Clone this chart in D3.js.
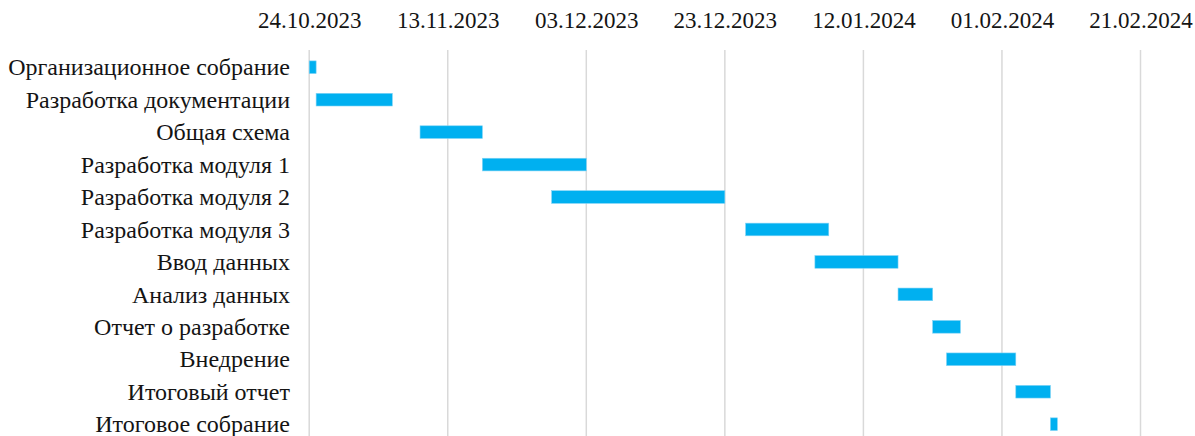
<!DOCTYPE html>
<html>
<head>
<meta charset="utf-8">
<script src="https://cdn.jsdelivr.net/npm/d3@7"></script>
<style>
  html, body { margin: 0; padding: 0; background: #fff; }
  svg { display: block; }
  text { font-family: "Liberation Serif", "Times New Roman", serif; fill: #141414; }
</style>
</head>
<body>
<svg id="chart" width="1195" height="436"></svg>
<script>
// ---- data ----
const tasks = [
  "Организационное собрание",
  "Разработка документации",
  "Общая схема",
  "Разработка модуля 1",
  "Разработка модуля 2",
  "Разработка модуля 3",
  "Ввод данных",
  "Анализ данных",
  "Отчет о разработке",
  "Внедрение",
  "Итоговый отчет",
  "Итоговое собрание"
];
const startDates = [
  "24.10.2023", "25.10.2023", "09.11.2023", "18.11.2023", "28.11.2023", "26.12.2023",
  "05.01.2024", "17.01.2024", "22.01.2024", "24.01.2024", "03.02.2024", "08.02.2024"
];
const durations = [1, 11, 9, 15, 25, 12, 12, 5, 4, 10, 5, 1];
const tickLabels = ["24.10.2023", "13.11.2023", "03.12.2023", "23.12.2023", "12.01.2024", "01.02.2024", "21.02.2024"];

(function () {
const parse = d3.utcParse("%d.%m.%Y");
const fmt = d3.utcFormat("%d.%m.%Y");
const DAY = 86400000;

const rows = tasks.map((t, i) => {
  const s = parse(startDates[i]);
  return { task: t, start: s, end: new Date(s.getTime() + durations[i] * DAY) };
});
const ticks = tickLabels.map(parse);

const svg = d3.select("#chart");
const mLeft = 309.2, mRight = 1140.5, mTop = 51, bandH = 32.45;

const x = d3.scaleUtc()
  .domain([ticks[0], ticks[ticks.length - 1]])
  .range([mLeft, mRight]);

const y = d3.scaleBand()
  .domain(tasks)
  .range([mTop, mTop + bandH * tasks.length])
  .paddingInner(0)
  .paddingOuter(0);

// gridlines
svg.append("g")
  .selectAll("line")
  .data(ticks)
  .join("line")
  .attr("x1", d => x(d)).attr("x2", d => x(d))
  .attr("y1", mTop - 1).attr("y2", mTop + bandH * tasks.length)
  .attr("stroke", "#d9d9d9")
  .attr("stroke-width", 1.5);

// top axis labels
const xAxis = d3.axisTop(x).tickValues(ticks).tickFormat(fmt).tickSize(0);
const gx = svg.append("g").attr("transform", "translate(0,31)").call(xAxis);
gx.select(".domain").remove();
gx.attr("font-family", null).attr("font-size", null);
gx.selectAll("text")
  .attr("font-size", 23)
  .attr("dy", 0);

// y labels
const yAxis = d3.axisLeft(y).tickSize(0).tickPadding(0);
const gy = svg.append("g").attr("transform", "translate(290,0)").call(yAxis);
gy.select(".domain").remove();
gy.attr("font-family", null).attr("font-size", null);
gy.selectAll("text")
  .attr("font-size", 24)
  .attr("dy", "0.34em");

// bars
const barH = bandH * 0.39;
svg.append("g")
  .selectAll("rect")
  .data(rows)
  .join("rect")
  .attr("x", d => x(d.start))
  .attr("width", d => x(d.end) - x(d.start))
  .attr("y", d => y(d.task) + (bandH - barH) / 2)
  .attr("height", barH)
  .attr("fill", "#00B0F0")
  .attr("stroke", "#7fd3f5")
  .attr("stroke-width", 0.6);
})();
</script>
</body>
</html>
